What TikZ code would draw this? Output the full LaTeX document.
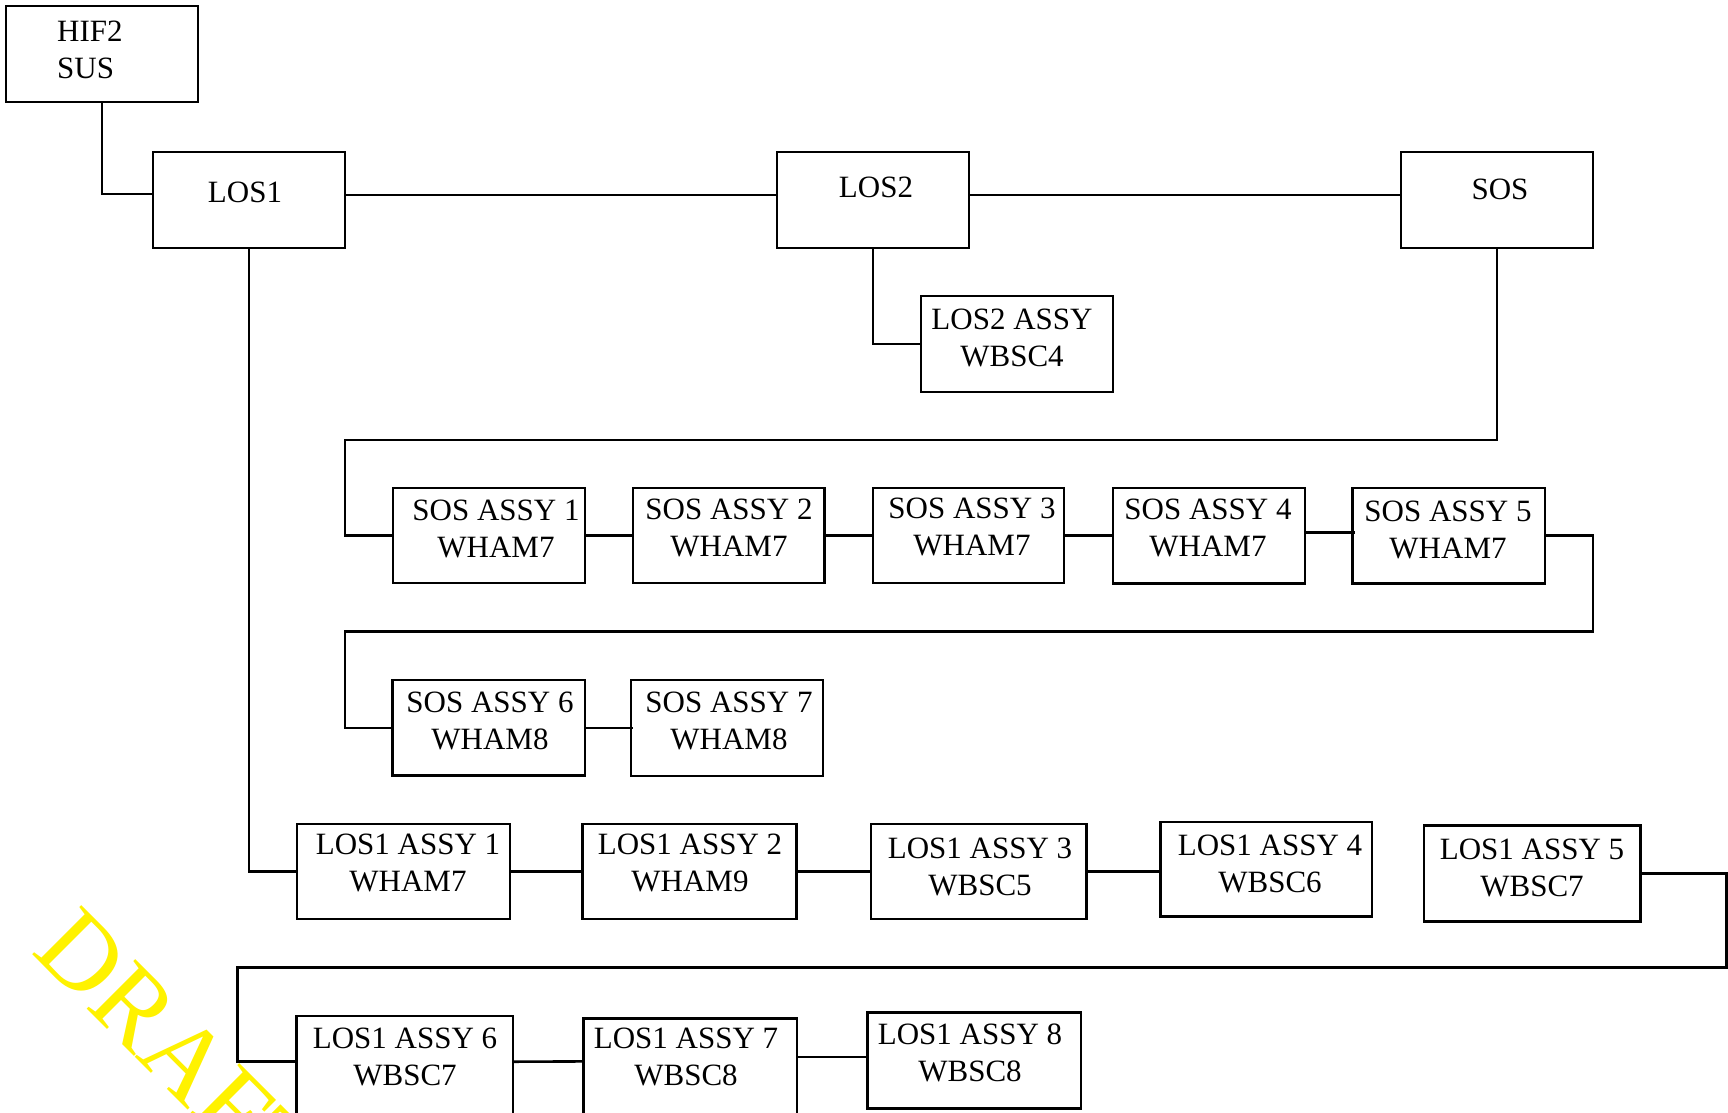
\documentclass[tikz,border=0pt]{standalone}
\usepackage{fontspec}
\setmainfont{Liberation Serif}
\usetikzlibrary{calc}
\newcommand{\mybox}[5]{%
  \node[box, minimum width={#4-#2}, minimum height={#5-#3}] (#1) at ({(#2+#4)/2},{(#3+#5)/2}) {};}
\begin{document}
\begin{tikzpicture}[x=1pt,y=-1pt,
  box/.style={draw, rectangle, line width=2.6pt, inner sep=0pt},
  lbl/.style={font=\fontsize{31}{37}\selectfont, align=center, inner sep=0pt},
  wire/.style={line width=2.6pt},
  wmark/.style={font=\fontsize{106}{106}\selectfont, text=yellow, rotate=-45, anchor=base west, inner sep=0pt}]
\useasboundingbox (0,0) rectangle (1728,1112);
\fill[white] (0,0) rectangle (1728,1112);
\clip (0,0) rectangle (1728,1112);
% watermark
\node[wmark] (wm) at (30,952) {DRAFT};
% boxes
\mybox{hif}{6}{6}{198}{102}
\mybox{los1}{153}{152}{345}{248}
\mybox{los2}{777}{152}{969}{248}
\mybox{sos}{1401}{152}{1593}{248}
\mybox{l2a}{921}{296}{1113}{392}
\mybox{sa1}{393}{488}{585}{583}
\mybox{sa2}{633}{488}{824.5}{583}
\mybox{sa3}{873}{488}{1064}{583}
\mybox{sa4}{1113}{488}{1305}{583.5}
\mybox{sa5}{1352.5}{488}{1545}{583.5}
\mybox{sa6}{392.6}{680}{585}{775.7}
\mybox{sa7}{631}{680}{823}{776}
\mybox{la1}{297}{824}{510}{919}
\mybox{la2}{582.7}{824}{796.3}{919}
\mybox{la3}{871}{824}{1086.5}{919}
\mybox{la4}{1160.6}{822}{1372}{916.7}
\mybox{la5}{1424}{825.7}{1640.7}{921.7}
\mybox{la6}{296.4}{1016}{512.9}{1130}
\mybox{la7}{583.5}{1018.3}{797}{1130}
\mybox{la8}{867.6}{1012.7}{1081}{1108.3}
% labels
\node[lbl, align=left, anchor=west] (t-hif) at (57,50) {HIF2\\SUS};
\node[lbl] (t-los1) at (245,192) {LOS1};
\node[lbl] (t-los2) at (876,187) {LOS2};
\node[lbl] (t-sos) at (1500,189.5) {SOS};
\node[lbl] (t-l2a) at (1012,337.5) {LOS2 ASSY\\WBSC4};
\node[lbl] (t-sa1) at (496,528.6) {SOS ASSY 1\\WHAM7};
\node[lbl] (t-sa2) at (729,528) {SOS ASSY 2\\WHAM7};
\node[lbl] (t-sa3) at (972,527) {SOS ASSY 3\\WHAM7};
\node[lbl] (t-sa4) at (1208,528) {SOS ASSY 4\\WHAM7};
\node[lbl] (t-sa5) at (1448,530) {SOS ASSY 5\\WHAM7};
\node[lbl] (t-sa6) at (490,721) {SOS ASSY 6\\WHAM8};
\node[lbl] (t-sa7) at (729,721) {SOS ASSY 7\\WHAM8};
\node[lbl] (t-la1) at (408,863) {LOS1 ASSY 1\\WHAM7};
\node[lbl] (t-la2) at (690,863) {LOS1 ASSY 2\\WHAM9};
\node[lbl] (t-la3) at (980,867) {LOS1 ASSY 3\\WBSC5};
\node[lbl] (t-la4) at (1270,864) {LOS1 ASSY 4\\WBSC6};
\node[lbl] (t-la5) at (1532,868) {LOS1 ASSY 5\\WBSC7};
\node[lbl] (t-la6) at (405,1057) {LOS1 ASSY 6\\WBSC7};
\node[lbl] (t-la7) at (686,1057) {LOS1 ASSY 7\\WBSC8};
\node[lbl] (t-la8) at (970,1052.6) {LOS1 ASSY 8\\WBSC8};
% junction points
\coordinate (j1) at (345,440);
\coordinate (j2) at (1593,631.7);
\coordinate (j3) at (345,631.7);
\coordinate (j4) at (1726.5,967.5);
\coordinate (j5) at (237.3,967.5);
\coordinate (c66) at ($(la6.north west)+(0,47)$);
\coordinate (c67) at ($(la7.north west)+(0,44.4)$);
\coordinate (c78) at ($(la8.north west)+(0,45.6)$);
% connectors
\draw[wire] (hif.south) |- ($(los1.west)+(0,-6)$);
\draw[wire] ($(los1.east)+(0,-5)$) -- ($(los2.west)+(0,-5)$);
\draw[wire] ($(los2.east)+(0,-5)$) -- ($(sos.west)+(0,-5)$);
\draw[wire] (los2.south) |- (l2a.west);
\draw[wire] (sos.south) |- (j1) |- (sa1.west);
\draw[wire] (sa1.east) -- (sa1.east -| sa2.west);
\draw[wire] (sa2.east) -- (sa2.east -| sa3.west);
\draw[wire] (sa3.east) -- (sa3.east -| sa4.west);
\draw[wire] ($(sa4.east)+(0,-3)$) -- ($(sa4.east -| sa5.west)+(4,-3)$);
\draw[wire] (sa5.east) -| (j2) -- (j3) |- (sa6.west);
\draw[wire] (sa6.east) -- ($(sa6.east -| sa7.west)+(3,0)$);
\draw[wire] (los1.south) |- (la1.west);
\draw[wire] (la1.east) -- (la1.east -| la2.west);
\draw[wire] (la2.east) -- (la2.east -| la3.west);
\draw[wire] (la3.east) -- (la3.east -| la4.west);
\draw[wire] (la5.east) -| (j4) -- (j5) |- (c66);
\draw[wire] (c66 -| la6.east) -- (c67);
\draw[wire] (c78) -- (c78 -| la7.east);
\end{tikzpicture}
\end{document}
